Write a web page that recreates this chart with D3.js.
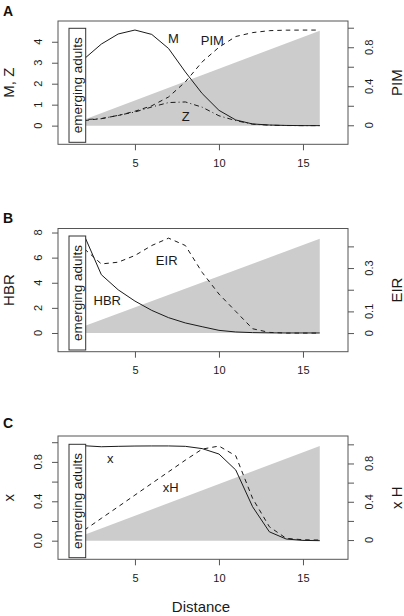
<!DOCTYPE html>
<html>
<head>
<meta charset="utf-8">
<script src="https://cdn.jsdelivr.net/npm/d3@7"></script>
<style>
  html, body { margin: 0; padding: 0; background: #fff; }
  svg { display: block; font-family: "Liberation Sans", Arial, Helvetica, sans-serif; }
</style>
</head>
<body>
<svg id="chart" width="404" height="616"></svg>
<script>
// ---- data ----
const distance = [2, 3, 4, 5, 6, 7, 8, 9, 10, 11, 12, 13, 14, 15, 16];
// Panel A
const M   = [3.2, 3.89, 4.37, 4.56, 4.35, 3.68, 2.56, 1.53, 0.73, 0.27, 0.08, 0.03, 0.01, 0, 0];
const Z   = [0.29, 0.33, 0.49, 0.65, 0.89, 1.1, 1.13, 0.88, 0.47, 0.24, 0.07, 0.02, 0.005, 0, 0];
const PIM = [0.048, 0.069, 0.10, 0.144, 0.2, 0.29, 0.445, 0.65, 0.80, 0.91, 0.95, 0.97, 0.975, 0.976, 0.976];
// Panel B
const HBR = [7.71, 4.64, 3.44, 2.54, 1.8, 1.22, 0.8, 0.5, 0.21, 0.08, 0.03, 0.01, 0, 0, 0];
const EIR = [0.388, 0.319, 0.327, 0.358, 0.404, 0.438, 0.404, 0.28, 0.18, 0.1, 0.02, 0.003, 0, 0, 0];
// Panel C
const xInf = [0.964, 0.954, 0.958, 0.961, 0.962, 0.962, 0.958, 0.935, 0.88, 0.718, 0.345, 0.09, 0.017, 0.003, 0];
const xH   = [0.105, 0.227, 0.348, 0.47, 0.592, 0.713, 0.835, 0.95, 0.982, 0.88, 0.436, 0.139, 0.018, 0.003, 0];
// grey wedge (left-axis units) at distance 2 and 16
const wedgeX = [2, 16];
const wedgeA = [0.29, 4.53];
const wedgeB = [0.56, 7.5];
const wedgeC = [0.06, 0.961];
// tick values and labels
const xTicks = [5, 10, 15];
const leftTicksA = [0, 1, 2, 3, 4];
const leftLabelsA = ["0", "1", "2", "3", "4"];
const rightTicksA = [0, 0.2, 0.4, 0.6, 0.8, 1.0];
const rightLabelsA = ["0", "", "0.4", "", "0.8", ""];
const leftTicksB = [0, 2, 4, 6, 8];
const leftLabelsB = ["0", "2", "4", "6", "8"];
const rightTicksB = [0, 0.1, 0.2, 0.3, 0.4];
const rightLabelsB = ["0", "0.1", "", "0.3", ""];
const leftTicksC = [0, 0.2, 0.4, 0.6, 0.8, 1.0];
const leftLabelsC = ["0.0", "", "0.4", "", "0.8", ""];
const rightTicksC = [0, 0.2, 0.4, 0.6, 0.8, 1.0];
const rightLabelsC = ["0", "", "0.4", "", "0.8", ""];

// ---- layout ----
const svg = d3.select("#chart");
const X0 = 58, X1 = 348;
const x = d3.scaleLinear().domain([0.42, 17.68]).range([X0, X1]);
const frameCol = "#555", lineCol = "#1a1a1a", textCol = "#1a1a1a";

const panels = [
  { letter: "A", top: 21, bottom: 144.3, ldom: [-0.89, 4.99], rdom: [-0.195, 1.069],
    ltitle: "M, Z", rtitle: "PIM", lt: leftTicksA, ll: leftLabelsA, rt: rightTicksA, rl: rightLabelsA,
    wedge: wedgeA, boxTop: 28.3, boxBot: 142.3,
    series: [
      { v: M, axis: "l", dash: null },
      { v: Z, axis: "l", dash: "1,3,5,3" },
      { v: PIM, axis: "r", dash: "4.5,4" }
    ],
    labels: [ { t: "M", x: 173.3, y: 43 }, { t: "PIM", x: 212.3, y: 44.8 }, { t: "Z", x: 185.7, y: 120.5 } ] },
  { letter: "B", top: 228.5, bottom: 351.7, ldom: [-1.49, 8.32], rdom: [-0.086, 0.4825],
    ltitle: "HBR", rtitle: "EIR", lt: leftTicksB, ll: leftLabelsB, rt: rightTicksB, rl: rightLabelsB,
    wedge: wedgeB, boxTop: 236, boxBot: 350,
    series: [
      { v: HBR, axis: "l", dash: null },
      { v: EIR, axis: "r", dash: "4.5,4" }
    ],
    labels: [ { t: "EIR", x: 166.7, y: 264.8 }, { t: "HBR", x: 107.3, y: 304.8 } ] },
  { letter: "C", top: 436, bottom: 559.3, ldom: [-0.189, 1.063], rdom: [-0.201, 1.087],
    ltitle: "x", rtitle: "x H", lt: leftTicksC, ll: leftLabelsC, rt: rightTicksC, rl: rightLabelsC,
    wedge: wedgeC, boxTop: 444.3, boxBot: 557.7,
    series: [
      { v: xInf, axis: "l", dash: null },
      { v: xH, axis: "r", dash: "4.5,4" }
    ],
    labels: [ { t: "x", x: 110.2, y: 462.7 }, { t: "xH", x: 170.8, y: 491.7 } ] }
];

panels.forEach(p => {
  const g = svg.append("g");
  const yl = d3.scaleLinear().domain(p.ldom).range([p.bottom, p.top]);
  const yr = d3.scaleLinear().domain(p.rdom).range([p.bottom, p.top]);

  // grey wedge
  const wpts = [[wedgeX[0], 0], [wedgeX[0], p.wedge[0]], [wedgeX[1], p.wedge[1]], [wedgeX[1], 0]];
  g.append("path")
    .attr("d", d3.line().x(d => x(d[0])).y(d => yl(d[1]))(wpts) + "Z")
    .attr("fill", "#cccccc").attr("stroke", "none");

  // series lines
  p.series.forEach(s => {
    const ys = s.axis === "l" ? yl : yr;
    g.append("path")
      .datum(distance.map((d, i) => [d, s.v[i]]))
      .attr("d", d3.line().x(d => x(d[0])).y(d => ys(d[1])))
      .attr("fill", "none").attr("stroke", lineCol).attr("stroke-width", 1)
      .attr("stroke-dasharray", s.dash);
  });

  // frame
  g.append("rect").attr("x", X0).attr("y", p.top).attr("width", X1 - X0).attr("height", p.bottom - p.top)
    .attr("fill", "none").attr("stroke", frameCol).attr("stroke-width", 1);

  // bottom axis
  const bx = g.append("g").attr("transform", `translate(0,${p.bottom})`)
    .call(d3.axisBottom(x).tickValues(xTicks).tickSize(6).tickPadding(9).tickFormat(d3.format("d")));
  bx.select(".domain").remove();
  bx.selectAll("line").attr("stroke", frameCol);
  bx.selectAll("text").attr("font-size", 11).attr("fill", textCol)
    .attr("font-family", "Liberation Sans, Arial, sans-serif");

  // left axis
  const la = g.append("g").attr("transform", `translate(${X0},0)`)
    .call(d3.axisLeft(yl).tickValues(p.lt).tickSize(6).tickFormat((d, i) => p.ll[i]));
  la.select(".domain").remove();
  la.selectAll("line").attr("stroke", frameCol);
  la.selectAll("text").remove();
  p.lt.forEach((t, i) => {
    g.append("text").attr("transform", `translate(42,${yl(t)}) rotate(-90)`)
      .attr("text-anchor", "middle").attr("font-size", 11).attr("fill", textCol).text(p.ll[i]);
  });

  // right axis
  const ra = g.append("g").attr("transform", `translate(${X1},0)`)
    .call(d3.axisRight(yr).tickValues(p.rt).tickSize(6));
  ra.select(".domain").remove();
  ra.selectAll("line").attr("stroke", frameCol);
  ra.selectAll("text").remove();
  p.rt.forEach((t, i) => {
    if (!p.rl[i]) return;
    g.append("text").attr("transform", `translate(373,${yr(t)}) rotate(-90)`)
      .attr("text-anchor", "middle").attr("font-size", 11).attr("fill", textCol).text(p.rl[i]);
  });

  const mid = (p.top + p.bottom) / 2;
  // axis titles
  g.append("text").attr("transform", `translate(13.5,${mid}) rotate(-90)`)
    .attr("text-anchor", "middle").attr("font-size", 15).attr("fill", textCol).text(p.ltitle);
  g.append("text").attr("transform", `translate(401.5,${mid}) rotate(-90)`)
    .attr("text-anchor", "middle").attr("font-size", 15).attr("fill", textCol).text(p.rtitle);

  // panel letter
  const letterY = { A: 16, B: 222.7, C: 427.7 }[p.letter];
  g.append("text").attr("x", 3).attr("y", letterY).attr("font-size", 14).attr("font-weight", "bold")
    .attr("fill", "#111").text(p.letter);

  // emerging adults box
  g.append("rect").attr("x", 69).attr("y", p.boxTop).attr("width", 16.7).attr("height", p.boxBot - p.boxTop)
    .attr("fill", "#fff").attr("stroke", "#333").attr("stroke-width", 1);
  g.append("text").attr("transform", `translate(82,${(p.boxTop + p.boxBot) / 2}) rotate(-90)`)
    .attr("text-anchor", "middle").attr("font-size", 13.5).attr("fill", textCol).text("emerging adults");

  // in-plot labels
  p.labels.forEach(l => {
    g.append("text").attr("x", l.x).attr("y", l.y).attr("text-anchor", "middle")
      .attr("font-size", 13).attr("fill", textCol).text(l.t);
  });
});

// x title
svg.append("text").attr("x", 201).attr("y", 611.5).attr("text-anchor", "middle")
  .attr("font-size", 15).attr("fill", textCol).text("Distance");
</script>
</body>
</html>
